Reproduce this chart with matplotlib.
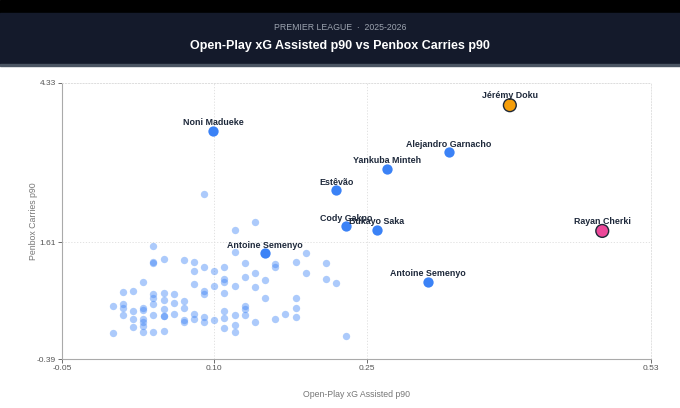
import numpy as np
import matplotlib
matplotlib.use("Agg")
import matplotlib.pyplot as plt

plt.rcParams['font.family'] = ['Liberation Sans', 'DejaVu Sans']

# background players (open-play xG assisted p90, penbox carries p90)
bg_x = [0.04, 0.04, 0.04, 0.05, 0.07, 0.08, 0.08, 0.09, 0.10, 0.11, 0.12, 0.14,
        0.12, 0.13, 0.14, 0.15, 0.16, 0.16, 0.18, 0.19, 0.19, 0.21, 0.21, 0.22,
        0.03, 0.08, 0.10, 0.11, 0.11, 0.12, 0.13, 0.14, 0.01, 0.02, 0.04, 0.04,
        0.05, 0.06, 0.09, 0.09, 0.11, 0.15, 0.18, 0.00, 0.01, 0.01, 0.01, 0.02,
        0.03, 0.03, 0.04, 0.05, 0.05, 0.06, 0.07, 0.07, 0.06, 0.04, 0.05, 0.05,
        0.08, 0.11, 0.12, 0.13, 0.13, 0.13, 0.17, 0.18, 0.18, 0.16, 0.02, 0.03,
        0.03, 0.07, 0.07, 0.08, 0.09, 0.09, 0.10, 0.11, 0.12, 0.14, 0.02, 0.03,
        0.11, 0.00, 0.03, 0.04, 0.05, 0.12, 0.23, 0.09]
bg_y = [1.55, 1.26, 1.27, 1.32, 1.30, 1.27, 1.11, 1.19, 1.11, 1.18, 1.81, 1.95,
        1.44, 1.26, 1.08, 0.96, 1.23, 1.18, 1.27, 1.43, 1.08, 1.25, 0.98, 0.91,
        0.93, 0.89, 0.86, 0.98, 0.92, 0.86, 1.01, 0.84, 0.75, 0.77, 0.72, 0.66,
        0.74, 0.73, 0.77, 0.73, 0.74, 0.65, 0.65, 0.52, 0.55, 0.49, 0.36, 0.43,
        0.49, 0.45, 0.55, 0.62, 0.47, 0.56, 0.60, 0.49, 0.38, 0.36, 0.34, 0.34,
        0.38, 0.43, 0.37, 0.52, 0.47, 0.36, 0.38, 0.49, 0.32, 0.29, 0.29, 0.29,
        0.25, 0.28, 0.25, 0.29, 0.32, 0.25, 0.28, 0.31, 0.19, 0.25, 0.16, 0.17,
        0.14, 0.05, 0.07, 0.08, 0.09, 0.08, 0.00, 2.43]

# labelled players
names = ["Noni Madueke", "Alejandro Garnacho", "Yankuba Minteh", "Estêvão",
         "Cody Gakpo", "Bukayo Saka", "Antoine Semenyo", "Antoine Semenyo"]
hl_x = [0.099, 0.331, 0.270, 0.220, 0.230, 0.260, 0.150, 0.310]
hl_y = [3.51, 3.15, 2.86, 2.50, 1.88, 1.82, 1.42, 0.93]

# featured players
feat_names = ["Jérémy Doku", "Rayan Cherki"]
feat_x = [0.391, 0.482]
feat_y = [3.95, 1.80]
feat_colors = ["#f59e0b", "#ec4899"]

x_ticks = [-0.05, 0.10, 0.25, 0.53]
y_ticks = [-0.39, 1.61, 4.33]

fig = plt.figure(figsize=(6.8, 4.08), dpi=100)
fig.patch.set_facecolor("white")

# header band
fig.patches.append(plt.Rectangle((0, 1 - 13 / 408), 1, 13 / 408, transform=fig.transFigure,
                                 color="black", zorder=0))
fig.patches.append(plt.Rectangle((0, 1 - 64 / 408), 1, 51 / 408, transform=fig.transFigure,
                                 color="#141a2b", zorder=0))
fig.patches.append(plt.Rectangle((0, 1 - 65.5 / 408), 1, 1.5 / 408, transform=fig.transFigure,
                                 color="#4b5563", zorder=0))
fig.text(0.5, 1 - 28 / 408, "PREMIER LEAGUE  ·  2025-2026", color="#9ca3af", fontsize=6.3,
         ha="center", va="center")
fig.text(0.5, 1 - 46 / 408, "Open-Play xG Assisted p90 vs Penbox Carries p90", color="white",
         fontsize=9, fontweight="bold", ha="center", va="center")

ax = fig.add_axes([62 / 680, 1 - 359 / 408, 589 / 680, 276 / 408])
ax.set_xlim(-0.05, 0.53)
ax.set_ylim(-0.39, 4.33)

ax.scatter(bg_x, bg_y, s=28, color="#3b82f6", alpha=0.42, linewidths=0, zorder=2)
ax.scatter(hl_x, hl_y, s=55, color="#3b82f6", linewidths=0, zorder=3)
ax.scatter(feat_x, feat_y, s=85, color=feat_colors, edgecolors="#1f2937", linewidths=1.0, zorder=4)

for n, x, y in zip(names, hl_x, hl_y):
    ax.annotate(n, (x, y), xytext=(0, 2.5), textcoords="offset points", ha="center", va="bottom",
                fontsize=6.4, fontweight="bold", color="#1e293b", zorder=5)
for n, x, y in zip(feat_names, feat_x, feat_y):
    ax.annotate(n, (x, y), xytext=(0, 3.5), textcoords="offset points", ha="center", va="bottom",
                fontsize=6.4, fontweight="bold", color="#1e293b", zorder=5)

ax.set_xticks(x_ticks)
ax.set_xticklabels(["%.2f" % v for v in x_ticks])
ax.set_yticks(y_ticks)
ax.set_yticklabels(["%.2f" % v for v in y_ticks])
ax.tick_params(labelsize=6, colors="#555555", length=3, width=0.6, pad=1.5)
ax.grid(True, linestyle=(0, (1.5, 2)), color="#dddddd", linewidth=0.6, zorder=0)
ax.set_axisbelow(True)

for s in ["top", "right"]:
    ax.spines[s].set_linestyle((0, (1.5, 2)))
    ax.spines[s].set_color("#dddddd")
    ax.spines[s].set_linewidth(0.6)
for s in ["left", "bottom"]:
    ax.spines[s].set_color("#aaaaaa")
    ax.spines[s].set_linewidth(0.8)

ax.set_xlabel("Open-Play xG Assisted p90", fontsize=6.3, color="#777777", labelpad=13)
ax.set_ylabel("Penbox Carries p90", fontsize=6.3, color="#777777", labelpad=-1)

fig.savefig("out.png", dpi=100)
